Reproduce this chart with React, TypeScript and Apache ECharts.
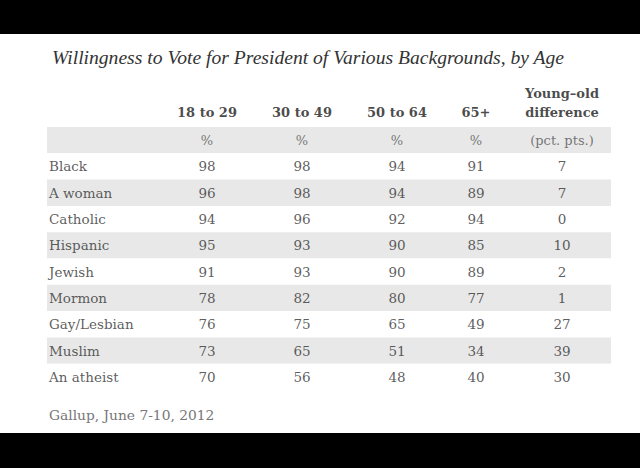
import React, { useEffect, useRef } from "react";
import * as echarts from "echarts";

const titleText = "Willingness to Vote for President of Various Backgrounds, by Age";
const sourceText = "Gallup, June 7-10, 2012";
const rowLabels = ["Black", "A woman", "Catholic", "Hispanic", "Jewish", "Mormon", "Gay/Lesbian", "Muslim", "An atheist"];
const columnHeaders = ["18 to 29", "30 to 49", "50 to 64", "65+", "Young–old\ndifference"];
const columnUnits = ["%", "%", "%", "%", "(pct. pts.)"];
const age18to29 = [98, 96, 94, 95, 91, 78, 76, 73, 70];
const age30to49 = [98, 98, 96, 93, 93, 82, 75, 65, 56];
const age50to64 = [94, 94, 92, 90, 90, 80, 65, 51, 48];
const age65plus = [91, 89, 94, 85, 89, 77, 49, 34, 40];
const youngOldDiff = [7, 7, 0, 10, 2, 1, 27, 39, 30];

// layout (pixel offsets from grid left)
const COL_X = [160, 255, 350, 429, 515];
const LABEL_X = 2;
const HEADER_ROW = "__header";
const UNIT_ROW = "__unit";

const FONT = "'DejaVu Serif', Georgia, serif";
const TITLE_FONT = "'Liberation Serif', 'Times New Roman', serif";

export default function App() {
  const ref = useRef<HTMLDivElement>(null);
  useEffect(() => {
    if (!ref.current) return;
    const chart = echarts.init(ref.current, undefined, { renderer: "svg" });
    const columns = [age18to29, age30to49, age50to64, age65plus, youngOldDiff];
    const textSeries = (name: string, data: any[], label: any) => ({
      name,
      type: "scatter",
      symbolSize: 1,
      itemStyle: { color: "transparent" },
      silent: true,
      data,
      label: {
        show: true,
        position: "inside",
        fontFamily: FONT,
        formatter: (p: any) => String(p.value[2]),
        ...label,
      },
    });
    const series: any[] = [];
    series.push(
      textSeries(
        "rowLabels",
        rowLabels.map((r) => [LABEL_X, r, r]),
        { align: "left", verticalAlign: "middle", fontSize: 13.5, color: "#333" }
      )
    );
    columns.forEach((vals, ci) => {
      series.push(
        textSeries(
          "col" + ci,
          vals.map((v, ri) => [COL_X[ci], rowLabels[ri], v]),
          { align: "center", verticalAlign: "middle", fontSize: 13.5, color: "#333" }
        )
      );
    });
    series.push(
      textSeries(
        "units",
        columnUnits.map((u, ci) => [COL_X[ci], UNIT_ROW, u]),
        { align: "center", verticalAlign: "middle", fontSize: 13, color: "#555" }
      )
    );
    series.push(
      textSeries(
        "headers",
        columnHeaders.map((h, ci) => [COL_X[ci], HEADER_ROW, h]),
        {
          align: "center",
          verticalAlign: "bottom",
          offset: [0, 8],
          lineHeight: 19,
          fontSize: 13,
          fontWeight: "bold",
          color: "#1a1a1a",
        }
      )
    );

    chart.setOption({
      animation: false,
      backgroundColor: "#ffffff",
      title: [
        {
          text: titleText,
          left: 52,
          top: 47,
          padding: 0,
          textStyle: { fontFamily: TITLE_FONT, fontStyle: "italic", fontWeight: "normal", fontSize: 19.6, color: "#333" },
        },
        {
          text: sourceText,
          left: 49,
          top: 408,
          padding: 0,
          textStyle: { fontFamily: FONT, fontWeight: "normal", fontSize: 13.8, color: "#777" },
        },
      ],
      graphic: [
        { type: "rect", shape: { x: 0, y: 0, width: 640, height: 34 }, style: { fill: "#000" }, z: 100 },
        { type: "rect", shape: { x: 0, y: 433, width: 640, height: 35 }, style: { fill: "#000" }, z: 100 },
      ],
      grid: { left: 47, right: 29, top: 100.7, bottom: 78 },
      xAxis: {
        type: "value",
        min: 0,
        max: 564,
        show: false,
      },
      yAxis: {
        type: "category",
        inverse: true,
        data: [HEADER_ROW, UNIT_ROW, ...rowLabels],
        axisLine: { show: false },
        axisTick: { show: false },
        axisLabel: { show: false },
        splitLine: { show: false },
        splitArea: { show: true, areaStyle: { color: ["#ffffff", "#e8e8e8"] } },
      },
      series,
    });
    return () => chart.dispose();
  }, []);
  return (
    <div
      ref={ref}
      style={{ position: "fixed", left: 0, top: 0, width: 640, height: 468, background: "#fff" }}
    />
  );
}
